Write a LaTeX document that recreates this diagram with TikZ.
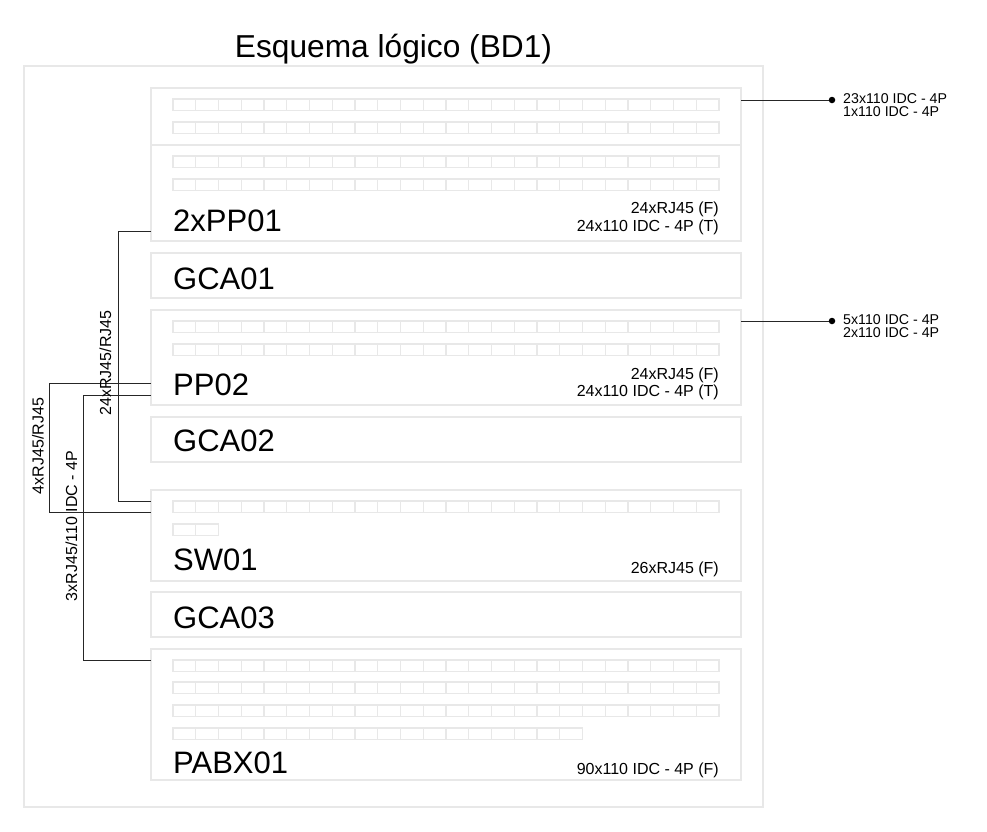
\documentclass[tikz,border=0pt]{standalone}
\usepackage{fontspec}
\setmainfont{Liberation Sans}
\usepackage{tikz}
\usetikzlibrary{positioning}

\definecolor{boxgray}{gray}{0.91}
\tikzset{
  rackbox/.style={draw=boxgray,line width=1.2pt,rectangle,anchor=north west,inner sep=0pt,outer sep=0pt,minimum width=590pt},
  port/.style={draw=boxgray,line width=1.1pt},
  wire/.style={draw=black!85,line width=1pt},
  bigname/.style={anchor=base west,inner sep=0pt,font=\fontsize{31}{31}\selectfont},
  info/.style={anchor=base east,inner sep=0pt,font=\fontsize{16}{16}\selectfont},
  wirelabel/.style={rotate=90,inner sep=0pt,font=\fontsize{16}{16}\selectfont},
  termlabel/.style={anchor=base west,inner sep=0pt,font=\fontsize{14.2}{14}\selectfont},
  termdot/.style={circle,fill=black,inner sep=0pt,minimum size=6.5pt}
}

% row of ports: y, count
\newcommand{\portrow}[2]{
  \foreach \i in {1,...,#2}
    \draw[port] ({173+(\i-1)*22.75},#1) rectangle ({173+\i*22.75},#1+11.5);
}

\begin{document}
\begin{tikzpicture}[x=1pt,y=-1pt]
  \useasboundingbox (0,0) rectangle (987,831);

  \node[draw=boxgray,line width=1.2pt,anchor=north west,inner sep=0pt,outer sep=0pt,minimum width=739pt,minimum height=741pt] (bd1) at (24,66) {};
  \node[anchor=base,inner sep=0pt,font=\fontsize{31.7}{32}\selectfont] (title) at (393.5,57) {Esquema lógico (BD1)};

  % boxes
  \node[rackbox,minimum height=57pt] (pp01top) at (151,88) {};
  \node[rackbox,minimum height=96pt] (pp01) at (151,145) {};
  \node[rackbox,minimum height=45pt] (gca01) at (151,253) {};
  \node[rackbox,minimum height=95pt] (pp02) at (151,310) {};
  \node[rackbox,minimum height=45pt] (gca02) at (151,417) {};
  \node[rackbox,minimum height=91pt] (sw01) at (151,490) {};
  \node[rackbox,minimum height=45pt] (gca03) at (151,592) {};
  \node[rackbox,minimum height=131pt] (pabx01) at (151,649) {};

  % ports
  \foreach \y in {99,122,156,179,321,344,501,660,682,705} {
    \portrow{\y}{24}
  }
  \portrow{524}{2}
  \portrow{728}{18}

  % names
  \node[bigname] (n2xpp01) at (173,231) {2xPP01};
  \node[bigname] (ngca01) at (173,289) {GCA01};
  \node[bigname] (npp02) at (173,395) {PP02};
  \node[bigname] (ngca02) at (173,451) {GCA02};
  \node[bigname] (nsw01) at (173,570) {SW01};
  \node[bigname] (ngca03) at (173,628) {GCA03};
  \node[bigname] (npabx01) at (173,773) {PABX01};

  \node[info] (i1) at (719,213) {24xRJ45 (F)};
  \node[info] (i2) at (719,231) {24x110 IDC - 4P (T)};
  \node[info] (i3) at (719,379) {24xRJ45 (F)};
  \node[info] (i4) at (719,396) {24x110 IDC - 4P (T)};
  \node[info] (i5) at (719,573) {26xRJ45 (F)};
  \node[info] (i6) at (719,774) {90x110 IDC - 4P (F)};

  % wires on the left
  \draw[wire] ([yshift=-38pt]pp01.west) -- ++(-33,0) |- ([yshift=-11pt]sw01.north west);
  \draw[wire] ([yshift=-25.5pt]pp02.west) -- ++(-102,0) |- ([yshift=-22pt]sw01.north west);
  \draw[wire] ([yshift=-37.5pt]pp02.west) -- ++(-68,0) |- ([yshift=-11pt]pabx01.north west);

  \node[wirelabel] (l24) at (105.5,363) {24xRJ45/RJ45};
  \node[wirelabel] (l4) at (38,446) {4xRJ45/RJ45};
  \node[wirelabel] (l3) at (71.5,526) {3xRJ45/110 IDC - 4P};

  % terminals on the right
  \node[termdot] (t1) at (832,100) {};
  \node[termdot] (t2) at (832,321) {};
  \draw[wire] (pp01top.east |- t1) -- (t1);
  \draw[wire] (pp02.east |- t2) -- (t2);

  \node[termlabel] (t1a) at (843,103) {23x110 IDC - 4P};
  \node[termlabel] (t1b) at (843,116) {1x110 IDC - 4P};
  \node[termlabel] (t2a) at (843,324) {5x110 IDC - 4P};
  \node[termlabel] (t2b) at (843,337) {2x110 IDC - 4P};
\end{tikzpicture}
\end{document}
